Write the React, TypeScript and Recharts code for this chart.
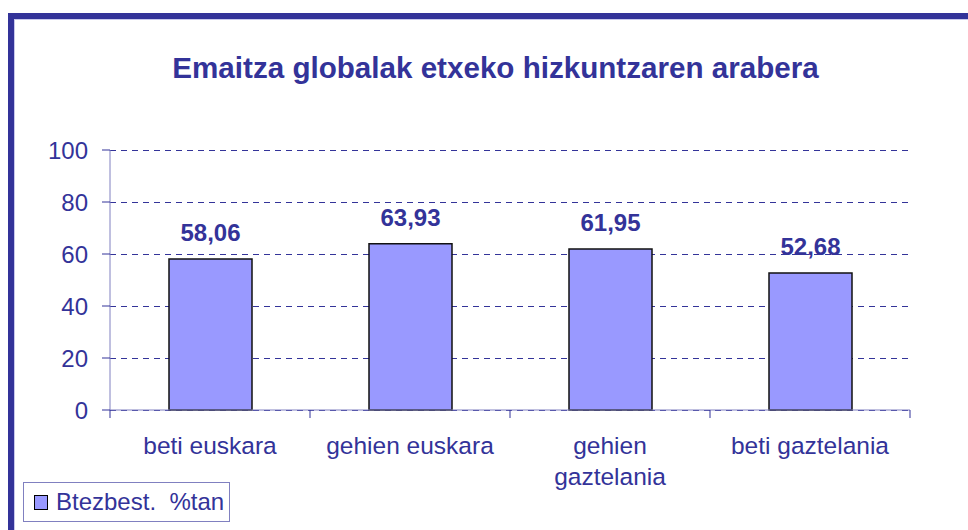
import React from "react";
import {
  BarChart,
  Bar,
  XAxis,
  YAxis,
  CartesianGrid,
  LabelList,
  Legend,
} from "recharts";

const categories = ["beti euskara", "gehien euskara", "gehien gaztelania", "beti gaztelania"];
const values = [58.06, 63.93, 61.95, 52.68];
const yTicks = [0, 20, 40, 60, 80, 100];
const seriesName = "Btezbest.  %tan";
const title = "Emaitza globalak etxeko hizkuntzaren arabera";

const data = categories.map((name, i) => ({ name, value: values[i] }));

const NAVY = "#333399";
const AXIS = "#8080c0";
const FONT = "'Liberation Sans', Arial, sans-serif";

const PLOT_LEFT = 110;
const PLOT_RIGHT = 910;
const PLOT_TOP = 150;
const PLOT_BOTTOM = 410;
const BAND = (PLOT_RIGHT - PLOT_LEFT) / categories.length;

const fmt = (v: number) => v.toFixed(2).replace(".", ",");

// long labels go on two lines, like the original
const splitLabel = (s: string) => {
  if (s.length <= 15) return [s];
  const i = s.indexOf(" ");
  return [s.slice(0, i), s.slice(i + 1)];
};

const XTick = (props: any) => {
  const { x, payload, index } = props;
  const left = x - BAND / 2;
  const right = x + BAND / 2;
  const lines = splitLabel(String(payload.value));
  return (
    <g>
      <line x1={left} x2={left} y1={PLOT_BOTTOM} y2={PLOT_BOTTOM + 8} stroke={NAVY} />
      {index === categories.length - 1 && (
        <line x1={right} x2={right} y1={PLOT_BOTTOM} y2={PLOT_BOTTOM + 8} stroke={NAVY} />
      )}
      <text x={x} y={PLOT_BOTTOM + 44} textAnchor="middle" fill={NAVY} fontSize={24.5}>
        {lines.map((l, i) => (
          <tspan key={i} x={x} dy={i === 0 ? 0 : 31}>
            {l}
          </tspan>
        ))}
      </text>
    </g>
  );
};

const LegendBox = () => (
  <div
    style={{
      width: 205,
      height: 38,
      border: `1px solid ${AXIS}`,
      display: "flex",
      alignItems: "center",
      boxSizing: "content-box",
    }}
  >
    <span
      style={{
        display: "inline-block",
        width: 12,
        height: 13,
        background: "#9999ff",
        border: "1.5px solid #000",
        marginLeft: 10,
        marginRight: 8,
      }}
    />
    <span style={{ color: NAVY, fontSize: 24, whiteSpace: "pre", lineHeight: "24px" }}>
      {seriesName}
    </span>
  </div>
);

export default function App() {
  return (
    <div
      style={{
        position: "absolute",
        left: 0,
        top: 0,
        width: 968,
        height: 530,
        overflow: "hidden",
        background: "#fff",
        fontFamily: FONT,
      }}
    >
      <div
        style={{
          position: "absolute",
          left: 8,
          top: 13,
          width: 1000,
          height: 600,
          borderTop: `6px solid ${NAVY}`,
          borderLeft: `6px solid ${NAVY}`,
        }}
      >
        <div
          style={{
            position: "absolute",
            left: 0,
            top: 0,
            right: 0,
            bottom: 0,
            borderTop: "1px solid #c8c8ec",
            borderLeft: "1px solid #c8c8ec",
          }}
        />
      </div>
      <div
        style={{
          position: "absolute",
          left: 0,
          width: 991,
          top: 50,
          textAlign: "center",
          color: NAVY,
          fontWeight: "bold",
          fontSize: 29.6,
          lineHeight: "36px",
        }}
      >
        {title}
      </div>
      <div style={{ position: "absolute", left: 0, top: 0 }}>
        <BarChart
          width={968}
          height={530}
          data={data}
          margin={{ top: PLOT_TOP, right: 968 - PLOT_RIGHT, bottom: 0, left: 0 }}
        >
          <CartesianGrid
            vertical={false}
            stroke={NAVY}
            strokeDasharray="6 5"
            shapeRendering="crispEdges"
          />
          <XAxis
            dataKey="name"
            height={530 - PLOT_BOTTOM}
            interval={0}
            tickLine={false}
            axisLine={{ stroke: AXIS }}
            tick={<XTick />}
          />
          <YAxis
            width={PLOT_LEFT}
            domain={[0, 100]}
            ticks={yTicks}
            interval={0}
            tickSize={8}
            tickMargin={14}
            axisLine={{ stroke: AXIS }}
            tickLine={{ stroke: NAVY }}
            tick={{ fill: NAVY, fontSize: 24 }}
          />
          <Legend
            layout="horizontal"
            verticalAlign="middle"
            align="center"
            wrapperStyle={{ left: 23, top: 482, width: 210, height: 42 }}
            content={() => <LegendBox />}
          />
          <Bar
            dataKey="value"
            name={seriesName}
            fill="#9999ff"
            stroke="#111"
            strokeWidth={1.5}
            barSize={83}
            isAnimationActive={false}
          >
            <LabelList
              dataKey="value"
              position="top"
              offset={18}
              formatter={(v: any) => fmt(Number(v))}
              fill={NAVY}
              fontSize={24}
              fontWeight="bold"
            />
          </Bar>
        </BarChart>
      </div>
    </div>
  );
}
